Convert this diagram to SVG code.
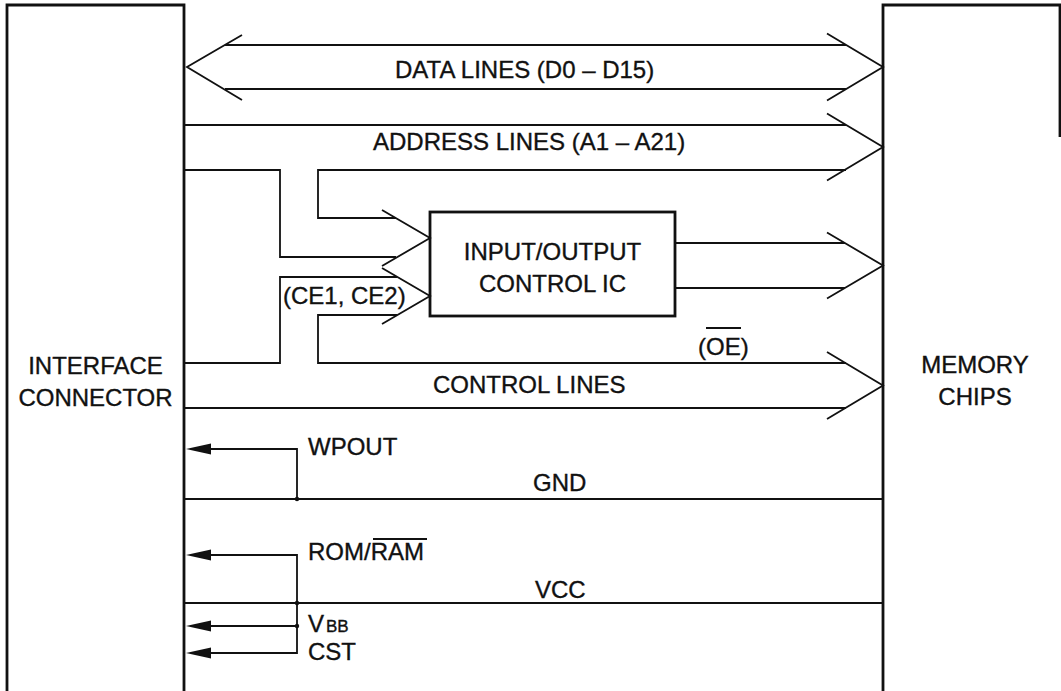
<svg xmlns="http://www.w3.org/2000/svg" width="1061" height="691" viewBox="0 0 1061 691">
<style>
.box{fill:none;stroke:#111;stroke-width:2.8}
.ln{fill:none;stroke:#111;stroke-width:1.8;stroke-linejoin:miter}
.ah{fill:#111;stroke:none}
.dot{fill:#111}
text{font-family:"Liberation Sans",Arial,Helvetica,sans-serif;font-size:24px;fill:#111;stroke:#111;stroke-width:0.35}
.sub{font-size:17px}
.mid{text-anchor:middle}
</style>
<rect width="1061" height="691" fill="#fff"/>
<g id="interface-connector">
<path class="box" d="M7,691 V5 H184 V691"/>
<text class="mid" x="95.5" y="374">INTERFACE</text>
<text class="mid" x="95.5" y="406">CONNECTOR</text>
</g>
<g id="memory-chips">
<path class="box" d="M883,691 V5 H1060 V137"/>
<text class="mid" x="975" y="373">MEMORY</text>
<text class="mid" x="975" y="405">CHIPS</text>
</g>
<g id="io-control-ic">
<rect class="box" x="430" y="212" width="245" height="104"/>
<text class="mid" x="552.5" y="260">INPUT/OUTPUT</text>
<text class="mid" x="552.5" y="292">CONTROL IC</text>
</g>
<g id="connectors">
<line class="ln" x1="225" y1="45" x2="846" y2="45"/>
<line class="ln" x1="225" y1="89" x2="846" y2="89"/>
<polyline class="ln" points="242,35 187,67 242,100"/>
<polyline class="ln" points="827,33.5 883,67 827,100.5"/>
<line class="ln" x1="184" y1="125" x2="846" y2="125"/>
<polyline class="ln" points="184,170 280,170 280,257 396,257"/>
<polyline class="ln" points="846,170 318,170 318,218 396,218"/>
<polyline class="ln" points="827,113.5 883,147 827,180.5"/>
<polyline class="ln" points="382,210 430,238 382,266"/>
<polyline class="ln" points="184,363 280,363 280,277 397,277"/>
<polyline class="ln" points="397,315 318,315 318,363 846,363"/>
<polyline class="ln" points="382,268 430,296 382,324"/>
<line class="ln" x1="184" y1="408" x2="846" y2="408"/>
<polyline class="ln" points="827,352 883,385.5 827,419"/>
<line class="ln" x1="675" y1="243" x2="845" y2="243"/>
<line class="ln" x1="675" y1="288" x2="845" y2="288"/>
<polyline class="ln" points="827,232.5 883,265.5 827,298.5"/>
<line class="ln" x1="184" y1="499" x2="883" y2="499"/>
<line class="ln" x1="184" y1="603" x2="883" y2="603"/>
<polyline class="ln" points="208,449 297,449 297,499"/>
<polyline class="ln" points="208,555 297,555 297,653 208,653"/>
<line class="ln" x1="208" y1="626" x2="297" y2="626"/>
<polygon class="ah" points="186,449 211,443.5 211,454.5"/>
<polygon class="ah" points="186,555 211,549.5 211,560.5"/>
<polygon class="ah" points="186,626 211,620.5 211,631.5"/>
<polygon class="ah" points="186,653 211,647.5 211,658.5"/>
<circle class="dot" cx="297" cy="499" r="2.2"/>
<circle class="dot" cx="297" cy="603" r="2.2"/>
<circle class="dot" cx="297" cy="626" r="2.2"/>
</g>
<g id="labels">
<text x="395" y="78">DATA LINES (D0 – D15)</text>
<text x="373" y="150">ADDRESS LINES (A1 – A21)</text>
<text x="283" y="304">(CE1, CE2)</text>
<text x="698" y="355">(OE)</text>
<line class="ln" x1="706" y1="328" x2="741" y2="328" stroke-width="1.5"/>
<text x="433" y="393">CONTROL LINES</text>
<text x="308" y="455">WPOUT</text>
<text x="533" y="491">GND</text>
<text x="308" y="560">ROM/RAM</text>
<line class="ln" x1="373" y1="539" x2="427" y2="539" stroke-width="1.5"/>
<text x="535" y="598">VCC</text>
<text x="308" y="632">V<tspan class="sub" dx="2">BB</tspan></text>
<text x="308" y="660">CST</text>
</g>
</svg>
